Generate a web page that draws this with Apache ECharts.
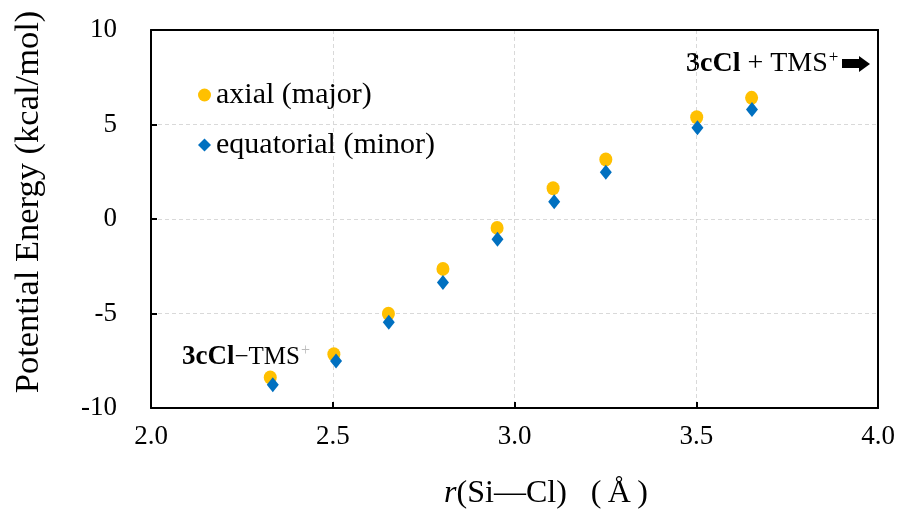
<!DOCTYPE html>
<html>
<head>
<meta charset="utf-8">
<script src="https://cdn.jsdelivr.net/npm/echarts@6/dist/echarts.min.js"></script>
<style>html,body{margin:0;padding:0;background:#fff}#c{width:898px;height:515px}</style>
</head>
<body>
<div id="c"></div>
<script>
var axialX = [2.328, 2.503, 2.653, 2.803, 2.952, 3.106, 3.251, 3.501, 3.652];
var axialY = [-8.39, -7.16, -5.01, -2.64, -0.47, 1.63, 3.15, 5.38, 6.41];
var equatX = [2.335, 2.509, 2.654, 2.803, 2.953, 3.109, 3.251, 3.503, 3.653];
var equatY = [-8.77, -7.51, -5.46, -3.36, -1.07, 0.91, 2.47, 4.83, 5.80];
var seriesNames = ['axial (major)', 'equatorial (minor)'];
var xTicks = [2.0, 2.5, 3.0, 3.5, 4.0];
var yTicks = [-10, -5, 0, 5, 10];

function pairs(xs, ys){ return xs.map(function(x,i){ return [x, ys[i]]; }); }

var font = '"Liberation Serif", "Times New Roman", serif';
var chart = echarts.init(document.getElementById('c'), null, {renderer:'canvas'});
var frameAxis = {show: true, axisLine: {show: true, onZero: false, lineStyle: {color: '#000', width: 2}},
  axisTick: {show: false}, axisLabel: {show: false}, splitLine: {show: false}};
var option = {
  animation: false,
  backgroundColor: '#fff',
  grid: {left: 151, right: 18, top: 30, bottom: 105},
  legend: {
    orient: 'vertical', left: 198, top: 80, itemGap: 20, padding: 0,
    itemWidth: 13, itemHeight: 13,
    textStyle: {fontFamily: font, fontSize: 30, color: '#000'},
    data: [{name: seriesNames[0], icon: 'circle'}, {name: seriesNames[1], icon: 'diamond'}]
  },
  xAxis: [{
    type: 'value', min: xTicks[0], max: xTicks[xTicks.length-1], interval: 0.5,
    axisLine: {onZero: false, lineStyle: {color: '#000', width: 2}},
    axisTick: {inside: true, length: 6, lineStyle: {color: '#000', width: 2}},
    axisLabel: {margin: 15, fontFamily: font, fontSize: 27, color: '#000', formatter: function(v){ return v.toFixed(1); }},
    splitLine: {show: true, lineStyle: {color: '#d9d9d9', type: [4,3], width: 1}},
    name: '{i|r}(Si—Cl)   (\u2009Å\u2009)', nameLocation: 'middle', nameGap: 70,
    nameTextStyle: {fontFamily: font, fontSize: 32, color: '#000', padding: [0,0,0,63],
      rich: {i: {fontFamily: font, fontSize: 32, fontStyle: 'italic', color: '#000'}}}
  }, Object.assign({type: 'value', position: 'top', min: xTicks[0], max: xTicks[xTicks.length-1]}, frameAxis)],
  yAxis: [{
    type: 'value', min: yTicks[0], max: yTicks[yTicks.length-1], interval: 5,
    axisLine: {onZero: false, lineStyle: {color: '#000', width: 2}},
    axisTick: {inside: true, length: 6, lineStyle: {color: '#000', width: 2}},
    axisLabel: {margin: 34, fontFamily: font, fontSize: 27, color: '#000'},
    splitLine: {show: true, lineStyle: {color: '#d9d9d9', type: [4,3], width: 1}},
    name: 'Potential Energy (kcal/mol)', nameLocation: 'middle', nameGap: 105,
    nameTextStyle: {fontFamily: font, fontSize: 34.5, color: '#000', padding: [0,0,0,34]}
  }, Object.assign({type: 'value', position: 'right', min: yTicks[0], max: yTicks[yTicks.length-1]}, frameAxis)],
  series: [
    {name: seriesNames[0], type: 'scatter', symbol: 'circle', symbolSize: [13,14],
     itemStyle: {color: '#FFC000', opacity: 1}, data: pairs(axialX, axialY), z: 2},
    {name: seriesNames[1], type: 'scatter', symbol: 'diamond', symbolSize: [12,15],
     itemStyle: {color: '#0070C0', opacity: 1}, data: pairs(equatX, equatY), z: 3}
  ],
  graphic: [
    {type: 'text', left: 686, top: 49, style: {
      text: '{b|3cCl}{n| + TMS}{s|+}',
      rich: {b: {fontFamily: font, fontSize: 28, fontWeight: 'bold', fill: '#000'},
             n: {fontFamily: font, fontSize: 28, fill: '#000'},
             s: {fontFamily: font, fontSize: 17, padding: [0,0,12,1], fill: '#000'}}
    }},
    {type: 'polygon', shape: {points: [[842,59],[859,59],[859,56],[870,64],[859,72],[859,68],[842,68]]}, style: {fill: '#000'}},
    {type: 'text', left: 182, top: 343, style: {
      text: '{b|3cCl}{n|−TMS}{s|+}',
      rich: {b: {fontFamily: font, fontSize: 27, fontWeight: 'bold', fill: '#000'},
             n: {fontFamily: font, fontSize: 25, fill: '#000'},
             s: {fontFamily: font, fontSize: 16, padding: [0,0,12,1], fill: '#bbb'}}
    }}
  ]
};
chart.setOption(option);
</script>
</body>
</html>
